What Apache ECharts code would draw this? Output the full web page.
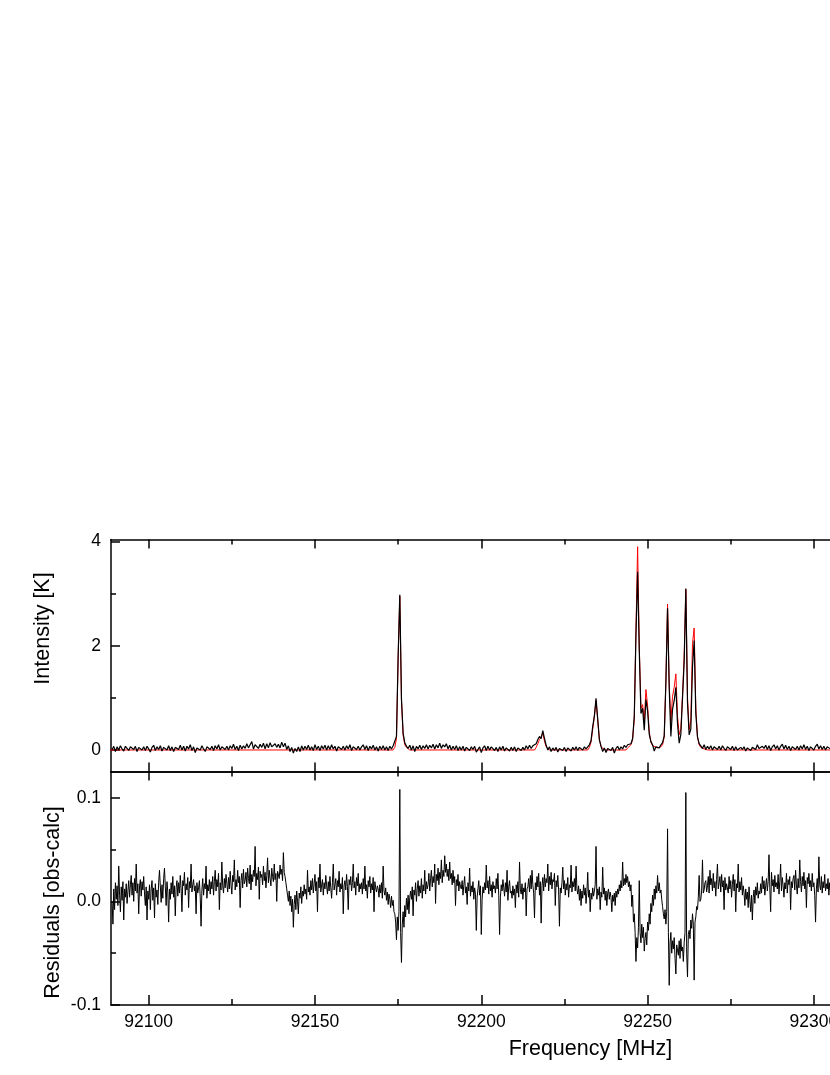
<!DOCTYPE html>
<html><head><meta charset="utf-8">
<script src="https://cdn.jsdelivr.net/npm/echarts@6/dist/echarts.min.js"></script>
<style>html,body{margin:0;padding:0;background:#fff}#c{width:830px;height:1075px}</style>
</head><body><div id="c"></div>
<script>
// sampling grid of the observed spectrum (MHz)
const OBS_START = 92089;
const OBS_STEP = 0.5;
// sampling grid of the residuals (MHz)
const RES_START = 92089;
const RES_STEP = 0.25;

// observed intensity [K]
const OBS = [
0.01,0.07,-0.03,0.06,0.00,0.08,0.02,-0.02,0.07,0.03,
-0.01,0.06,0.09,0.01,0.07,-0.03,0.05,0.08,0.00,0.06,
-0.01,0.07,0.02,-0.04,0.05,0.09,-0.01,0.06,0.01,0.08,
-0.02,0.05,0.08,0.00,0.08,-0.01,0.06,-0.03,0.05,0.07,
0.01,0.09,0.00,0.07,-0.02,0.07,0.02,0.10,-0.01,0.06,
-0.05,0.04,0.07,0.00,0.08,0.02,-0.03,0.06,0.09,0.01,
0.07,-0.01,0.08,0.02,0.10,0.00,0.06,0.09,0.01,0.07,
0.00,0.08,0.03,0.11,0.01,0.07,-0.01,0.09,0.02,0.08,
0.03,0.12,0.04,0.10,0.16,0.02,0.10,0.13,0.03,0.11,
0.05,0.13,0.02,0.12,0.04,0.14,0.06,0.03,0.12,0.05,
0.11,0.04,0.15,0.06,0.13,0.01,0.08,-0.03,0.05,-0.06,
0.03,-0.03,0.06,-0.03,0.08,0.00,0.07,0.01,0.09,0.00,
0.06,-0.01,0.10,0.01,0.07,-0.01,0.08,0.02,0.09,0.00,
0.08,0.01,0.10,0.02,0.07,-0.02,0.06,0.09,0.01,0.07,
0.00,0.08,0.02,0.10,-0.01,0.06,0.09,0.01,0.07,0.00,
0.06,0.10,0.01,0.08,-0.01,0.07,0.02,0.09,0.00,0.06,
-0.02,0.07,0.01,0.08,0.00,0.06,-0.01,0.07,0.02,0.08,
0.10,0.26,1.80,2.98,0.98,0.32,0.14,0.07,0.03,0.09,
0.00,0.08,-0.03,0.07,0.02,0.09,0.01,0.08,0.03,0.10,
0.02,0.09,0.04,0.11,0.02,0.10,0.04,0.13,0.03,0.10,
0.06,0.12,0.02,0.09,0.00,0.07,0.01,0.08,-0.01,0.06,
0.00,0.07,-0.02,0.05,0.08,-0.01,0.06,0.01,0.07,-0.04,
0.01,0.06,-0.05,0.04,0.08,-0.01,0.07,0.00,0.06,0.09,
-0.01,0.05,-0.03,0.06,0.00,0.07,-0.02,0.04,0.06,-0.02,
0.05,-0.01,0.06,-0.03,0.04,0.07,-0.01,0.05,0.00,0.08,
0.02,0.09,0.03,0.08,0.08,0.12,0.20,0.26,0.22,0.37,
0.22,0.09,0.00,0.06,-0.03,0.04,-0.01,0.05,-0.04,0.03,
0.06,-0.01,0.05,-0.03,0.04,0.07,-0.02,0.05,0.00,0.06,
-0.01,0.05,0.07,0.00,0.06,0.02,0.05,0.10,0.18,0.45,
0.65,0.99,0.60,0.20,0.07,-0.03,0.04,-0.05,0.03,0.06,
-0.01,0.05,-0.06,0.03,0.07,0.00,0.06,0.02,0.09,0.05,
0.10,0.07,0.12,0.22,0.65,2.20,3.42,1.90,0.70,0.80,
0.38,0.97,0.75,0.30,0.16,0.10,-0.02,0.06,0.09,0.04,
0.10,0.14,0.27,1.30,2.72,1.20,0.26,0.78,0.95,1.20,
0.50,0.13,0.30,1.00,1.70,3.10,0.90,0.29,0.40,1.60,
2.10,0.70,0.25,0.12,0.08,0.03,0.10,0.01,0.07,0.02,
0.08,0.00,0.06,0.09,0.01,0.07,0.00,0.08,0.03,-0.01,
0.06,0.09,0.01,0.07,-0.01,0.06,0.00,-0.02,0.05,0.01,
0.06,-0.02,0.04,0.07,-0.01,0.05,0.08,0.01,0.10,0.03,
0.00,0.07,0.03,0.09,0.01,0.08,-0.01,0.06,0.10,0.02,
0.08,0.00,0.07,0.11,0.02,0.09,0.01,0.07,-0.01,0.06,
0.09,0.01,0.07,0.00,0.08,0.02,0.10,0.01,0.07,-0.01,
0.06,0.09,0.00,0.07,0.11,0.02,0.08,0.01,0.07,0.00,
0.06,0.09,0.02,0.07,0.03
];

// residuals [obs-calc], 20 samples per 5 MHz
const RES = [
0.000,-0.022,0.012,-0.008,0.018,0.002,0.015,-0.004,0.034,0.006,-0.010,0.014,0.001,0.019,-0.018,0.012,0.004,0.017,-0.002,0.010,
0.020,0.004,0.016,0.025,0.006,0.018,0.000,0.022,0.010,0.036,0.008,0.017,-0.012,0.015,0.021,0.005,0.019,0.011,0.024,0.007,
-0.004,0.014,-0.018,0.010,0.002,0.016,-0.008,0.012,0.020,0.001,0.013,-0.016,0.017,0.004,0.011,-0.003,0.018,0.030,0.015,-0.001,
0.016,0.003,0.022,0.032,0.014,-0.004,0.019,0.009,-0.020,0.012,0.002,0.018,0.007,0.024,0.004,0.015,-0.014,0.013,0.020,0.005,
0.018,0.008,0.025,0.012,-0.010,0.020,0.015,0.028,0.006,0.017,0.011,0.023,-0.006,0.019,0.013,0.036,0.009,0.016,0.021,0.010,
0.015,-0.012,0.018,0.008,0.013,0.020,0.004,-0.024,0.011,0.022,0.006,0.017,0.012,0.034,0.003,0.016,0.010,0.021,0.007,0.019,
0.012,0.024,0.006,0.019,0.030,0.010,0.021,0.014,0.027,-0.008,0.018,0.011,0.038,0.015,0.008,0.022,0.013,0.026,0.017,0.009,
0.023,0.012,0.029,0.016,0.007,0.025,0.019,0.040,0.011,0.021,0.014,0.030,0.018,0.024,-0.006,0.020,0.027,0.013,0.031,0.017,
0.020,0.028,0.014,0.032,0.022,0.017,0.035,0.011,0.026,0.019,0.030,0.024,0.053,0.015,0.027,0.021,0.033,0.002,0.029,0.023,
0.026,0.016,0.034,0.020,0.028,0.013,0.025,0.042,0.018,0.030,0.022,0.015,0.032,0.024,0.019,0.036,0.021,0.027,0.000,0.029,
0.030,0.022,0.035,0.026,0.031,0.020,0.047,0.028,0.024,0.018,0.012,0.006,0.000,0.010,-0.004,0.005,-0.010,0.002,-0.025,-0.003,
0.006,-0.008,0.010,0.000,-0.012,0.008,0.003,0.014,-0.002,0.010,0.005,0.016,0.007,0.012,0.002,0.030,0.009,0.014,0.006,0.020,
0.011,0.022,0.008,0.017,0.026,0.010,0.019,-0.010,0.023,0.013,0.036,0.009,0.016,0.021,0.006,0.018,0.012,0.025,0.015,0.007,
0.019,0.010,0.024,0.013,0.003,0.018,0.036,0.011,0.016,0.022,0.006,0.020,0.014,0.029,0.009,0.017,0.012,0.023,-0.012,0.015,
0.020,0.011,0.026,0.014,-0.008,0.021,0.016,0.024,0.010,0.018,0.036,0.013,0.019,0.006,0.023,0.015,0.027,0.009,0.017,0.012,
0.018,0.007,0.022,0.012,0.034,0.010,0.016,0.003,0.020,0.014,0.024,0.008,0.017,0.011,0.023,-0.010,0.019,0.013,0.009,0.015,
0.012,0.004,0.016,0.008,0.018,0.003,0.034,0.010,0.006,0.013,0.001,0.009,-0.003,0.007,0.002,-0.006,0.005,-0.004,0.001,-0.010,
-0.012,-0.020,-0.037,-0.015,-0.028,-0.010,0.108,-0.030,-0.059,-0.022,-0.010,-0.025,-0.004,-0.015,0.003,-0.008,0.006,-0.012,0.004,0.010,
0.002,0.014,-0.014,0.011,0.006,0.018,0.000,0.012,0.020,0.005,0.015,0.008,0.022,0.003,0.016,0.010,0.030,0.007,0.019,0.012,
0.016,0.027,0.010,0.022,0.030,0.014,0.024,0.018,0.036,-0.002,0.026,0.020,0.032,0.016,0.028,0.022,0.040,0.018,0.030,0.024,
0.044,0.028,0.036,0.024,0.031,0.020,0.038,0.022,0.027,0.016,0.030,0.018,0.024,-0.004,0.021,0.015,0.026,0.010,0.019,0.014,
0.012,0.020,0.006,0.016,0.024,0.008,0.014,-0.003,0.018,0.010,0.032,0.005,0.015,0.009,0.019,0.002,0.013,0.007,-0.028,0.004,
0.012,0.020,0.006,0.015,-0.032,0.002,0.014,0.008,0.018,0.011,0.035,0.013,0.020,0.007,0.024,0.010,0.016,0.004,0.019,0.012,
0.015,0.008,0.022,0.012,0.027,0.006,-0.032,0.004,0.016,0.010,0.021,0.013,0.005,0.018,0.009,0.030,0.001,0.014,0.020,0.008,
0.010,0.003,0.015,0.006,0.012,-0.006,0.016,0.008,0.019,0.004,0.038,0.011,0.007,0.017,0.002,0.013,0.009,0.018,-0.014,0.012,
0.014,0.022,0.009,0.025,0.012,0.030,0.016,0.008,-0.016,0.018,0.011,0.024,0.014,0.027,0.006,0.019,-0.021,0.015,0.023,0.010,
0.026,0.014,0.022,0.018,0.036,0.010,0.024,0.016,0.028,0.012,0.021,0.019,0.027,-0.004,0.020,0.014,0.025,0.011,-0.024,0.013,
0.008,0.018,0.033,0.012,0.020,0.006,0.017,0.011,0.023,0.004,0.016,0.013,0.035,0.009,0.019,0.014,0.022,0.010,0.034,0.012,
0.007,0.015,0.001,0.012,-0.004,0.010,0.003,0.016,0.006,0.013,-0.002,0.009,0.028,0.004,0.011,-0.010,0.008,0.002,0.013,0.005,
0.010,0.016,0.053,0.002,0.012,0.006,0.014,-0.008,0.009,0.004,0.033,0.007,0.013,0.001,0.010,-0.004,0.008,0.012,0.002,0.009,
0.004,-0.010,0.006,0.000,0.008,-0.004,0.010,0.004,0.012,0.007,0.016,0.010,0.020,0.013,0.038,0.015,0.022,0.016,0.026,0.018,
0.024,0.014,0.019,0.010,0.016,-0.005,0.006,-0.020,-0.012,-0.030,-0.058,-0.035,-0.045,-0.025,0.020,-0.030,-0.040,-0.022,-0.035,-0.025,
-0.048,-0.036,-0.030,-0.042,-0.020,-0.028,-0.012,-0.022,-0.002,-0.010,0.006,-0.004,0.012,0.002,0.015,0.008,0.025,0.010,0.018,0.008,
0.011,0.002,-0.005,-0.012,-0.017,-0.008,-0.022,-0.010,0.070,-0.030,-0.081,-0.040,-0.030,-0.050,-0.038,-0.046,-0.035,-0.055,-0.070,-0.042,
-0.042,-0.052,-0.038,-0.055,-0.036,-0.048,-0.044,-0.058,-0.040,-0.030,0.105,-0.050,-0.073,-0.032,-0.028,-0.036,-0.018,-0.026,-0.012,-0.022,
-0.076,-0.020,-0.015,-0.005,-0.008,0.004,0.025,0.000,0.002,0.010,0.040,0.008,0.011,0.018,0.020,0.009,0.015,0.024,0.008,0.030,
0.016,0.022,0.010,0.027,0.013,0.019,0.005,0.021,0.036,0.012,0.018,0.024,0.009,0.026,0.014,0.020,-0.008,0.023,0.011,0.017,
0.018,0.008,0.024,0.012,0.020,0.004,0.016,0.026,0.010,0.021,-0.010,0.017,0.013,0.036,0.009,0.019,0.011,0.023,0.006,0.015,
0.008,-0.004,0.012,0.002,0.009,-0.006,0.014,0.001,-0.010,0.006,-0.018,0.004,0.011,-0.002,0.014,0.006,0.018,0.003,0.010,0.007,
0.017,0.008,0.024,0.012,0.020,0.006,0.015,0.022,0.010,0.019,0.045,0.013,-0.010,0.028,0.015,0.021,0.009,0.025,0.014,0.018,
0.012,0.026,0.007,0.019,0.036,0.010,0.023,0.015,0.004,0.018,0.012,0.027,0.008,0.021,0.016,0.024,-0.008,0.019,0.013,0.022,
0.025,0.011,0.030,0.016,0.007,0.022,0.013,0.040,0.019,0.009,0.024,0.015,0.028,0.012,0.020,-0.006,0.023,0.017,0.027,0.014,
0.020,0.010,0.027,0.014,0.018,0.006,-0.020,0.012,0.022,0.009,0.043,0.016,0.011,0.024,0.008,0.019,0.013,0.026,0.010,0.017,
0.012,0.022,0.006,0.018,0.010,0.024,0.013,0.019,0.009
];

// calculated (model) spectrum, red
const MODEL_FREQ = [92080,92173.5,92174,92174.5,92175,92175.5,92176,92176.5,92177,92177.5,92178.5,
92216,92216.5,92217,92217.5,92218,92218.5,92219,92219.5,92220.5,
92232,92232.5,92233,92233.5,92234,92234.5,92235,92235.5,92236,92237,
92243.5,92244,92244.5,92245,92245.5,92246,92246.5,92247,92247.5,92248,92248.5,92249,92249.5,92250,92250.5,92251,92251.5,92252,92253,92254,92254.5,
92255,92255.5,92256,92256.5,92257,92257.5,92258,92258.5,92259,92259.5,92260,92260.5,92261,92261.5,92262,92262.5,92263,92263.5,92264,92264.5,92265,92265.5,92266,92267,92268,92400];
const MODEL_INT = [0,0,0.05,0.22,1.75,2.95,0.95,0.28,0.10,0.05,0,
0,0.05,0.12,0.20,0.25,0.33,0.17,0.06,0,
0,0.05,0.15,0.40,0.65,0.95,0.58,0.20,0.07,0,
0,0.04,0.06,0.10,0.20,0.60,2.30,3.90,2.00,0.80,0.87,0.55,1.16,0.85,0.35,0.15,0.08,0.05,0.04,0.06,0.10,
0.25,1.30,2.80,1.25,0.55,1.03,1.20,1.46,0.65,0.29,0.40,1.05,1.80,3.08,1.00,0.39,0.55,2.04,2.34,0.80,0.25,0.10,0.05,0.02,0,0];

// ticks
const X_MAJOR = [92100,92150,92200,92250,92300,92350];
const X_MINOR = [92125,92175,92225,92275,92325,92375];
const Y1_MAJOR = [0,2,4];
const Y1_MINOR = [1,3];
const Y2_MAJOR = [-0.1,0,0.1];
const Y2_MINOR = [-0.05,0.05];

const XMIN = 92088.67, XMAX = 92377.0;
const FONT = '"Liberation Sans", Arial, sans-serif';
const BLK = '#000';

function xAx(grid, pos, ticks, len, line, labels, extra) {
  return Object.assign({
    type: 'value', gridIndex: grid, position: pos, min: XMIN, max: XMAX,
    axisLine: {show: line, onZero: false, lineStyle: {color: BLK, width: 1.5}},
    axisTick: {show: true, inside: true, length: len, customValues: ticks, lineStyle: {color: BLK, width: 1.5}},
    axisLabel: labels ? {show: true, customValues: ticks, color: BLK, fontSize: 17.5, fontFamily: FONT, margin: 8,
      formatter: v => String(Math.round(v))} : {show: false},
    splitLine: {show: false}
  }, extra || {});
}
function yAx(grid, min, max, ticks, len, line, labels, fmt) {
  return {
    type: 'value', gridIndex: grid, position: 'left', min: min, max: max,
    axisLine: {show: line, onZero: false, lineStyle: {color: BLK, width: 1.5}},
    axisTick: {show: true, inside: true, length: len, customValues: ticks, lineStyle: {color: BLK, width: 1.5}},
    axisLabel: labels ? {show: true, customValues: ticks, color: BLK, fontSize: 17.5, fontFamily: FONT, margin: 10, formatter: fmt} : {show: false},
    splitLine: {show: false}
  };
}

const obsData = OBS.map((v, i) => [OBS_START + i * OBS_STEP, v]);
const resData = RES.map((v, i) => [RES_START + i * RES_STEP, v]);
const modelData = MODEL_FREQ.map((f, i) => [f, MODEL_INT[i]]);

const chart = echarts.init(document.getElementById('c'), null, {renderer: 'canvas'});
chart.setOption({
  animation: false,
  backgroundColor: '#fff',
  grid: [
    {left: 111, top: 539.5, width: 959, height: 232, outerBoundsMode: 'none', containLabel: false},
    {left: 111, top: 771.5, width: 959, height: 233.5, outerBoundsMode: 'none', containLabel: false}
  ],
  xAxis: [
    xAx(0, 'bottom', X_MAJOR, 9, true, false),
    xAx(0, 'top', X_MAJOR, 9, true, false),
    xAx(0, 'bottom', X_MINOR, 5, false, false),
    xAx(0, 'top', X_MINOR, 5, false, false),
    xAx(1, 'bottom', X_MAJOR, 10, true, true, {
      name: 'Frequency [MHz]', nameLocation: 'middle', nameGap: 33,
      nameTextStyle: {color: BLK, fontSize: 21.5, fontFamily: FONT}
    }),
    xAx(1, 'top', X_MAJOR, 9, true, false),
    xAx(1, 'bottom', X_MINOR, 6, false, false),
    xAx(1, 'top', X_MINOR, 5, false, false)
  ],
  yAxis: [
    yAx(0, -0.413, 4.038, Y1_MAJOR, 9, true, true, v => String(Math.round(v))),
    yAx(0, -0.413, 4.038, Y1_MINOR, 5, false, false),
    yAx(1, -0.1, 0.1253, Y2_MAJOR, 9, true, true, v => (Math.abs(v) < 1e-9 ? 0 : v).toFixed(1)),
    yAx(1, -0.1, 0.1253, Y2_MINOR, 5, false, false)
  ],
  graphic: [
    {type: 'text', x: 43, y: 628.5, rotation: Math.PI / 2,
     style: {text: 'Intensity [K]', fill: BLK, font: '21.5px ' + FONT, textAlign: 'center', textVerticalAlign: 'middle'}},
    {type: 'text', x: 53, y: 902.5, rotation: Math.PI / 2,
     style: {text: 'Residuals [obs-calc]', fill: BLK, font: '21.5px ' + FONT, textAlign: 'center', textVerticalAlign: 'middle'}}
  ],
  series: [
    {type: 'line', xAxisIndex: 0, yAxisIndex: 0, data: modelData, showSymbol: false, symbol: 'none',
     lineStyle: {color: '#ff0000', width: 1}, z: 2, silent: true},
    {type: 'line', xAxisIndex: 0, yAxisIndex: 0, data: obsData, showSymbol: false, symbol: 'none',
     lineStyle: {color: BLK, width: 1.2}, z: 3, silent: true},
    {type: 'line', xAxisIndex: 4, yAxisIndex: 2, data: resData, showSymbol: false, symbol: 'none',
     lineStyle: {color: BLK, width: 1}, z: 3, silent: true}
  ]
});
</script>
</body></html>
